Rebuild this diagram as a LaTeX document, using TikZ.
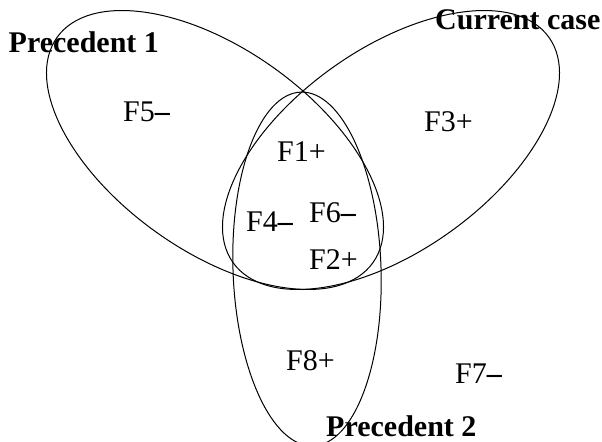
\documentclass[tikz,border=0pt]{standalone}
\usepackage{fontspec}
\setmainfont{Liberation Serif}
\begin{document}
\begin{tikzpicture}[x=1bp,y=-1bp,
  venn/.style={line width=1bp},
  lab/.style={font=\fontsize{30bp}{36bp}\selectfont\bfseries, anchor=base west, inner sep=0pt},
  feat/.style={font=\fontsize{30bp}{36bp}\selectfont, anchor=base west, inner sep=0pt}]
\useasboundingbox (0,0) rectangle (602,442);
% ellipses
\draw[venn, rotate around={-35.5:(215,150)}] (215,150) ellipse [x radius=194bp, y radius=101bp];
\draw[venn, rotate around={35.5:(391,150)}] (391,150) ellipse [x radius=194bp, y radius=101bp];
\draw[venn, rotate around={2:(307,269)}] (307,269) ellipse [x radius=74bp, y radius=177bp];
% labels
\node[lab] (p1) at (8.5,53) {Precedent 1};
\node[lab] (cur) at (435,30) {Current case};
\node[lab] (p2) at (326,436) {Precedent 2};
% features
\node[feat] (f5) at (123,122) {F5\textbf{–}};
\node[feat] (f3) at (424,132) {F3+};
\node[feat] (f1) at (277,162) {F1+};
\node[feat] (f4) at (246,232) {F4\textbf{–}};
\node[feat] (f6) at (309,223) {F6\textbf{–}};
\node[feat] (f2) at (309,270) {F2+};
\node[feat] (f8) at (286,370) {F8+};
\node[feat] (f7) at (455,383) {F7\textbf{–}};
\end{tikzpicture}
\end{document}
